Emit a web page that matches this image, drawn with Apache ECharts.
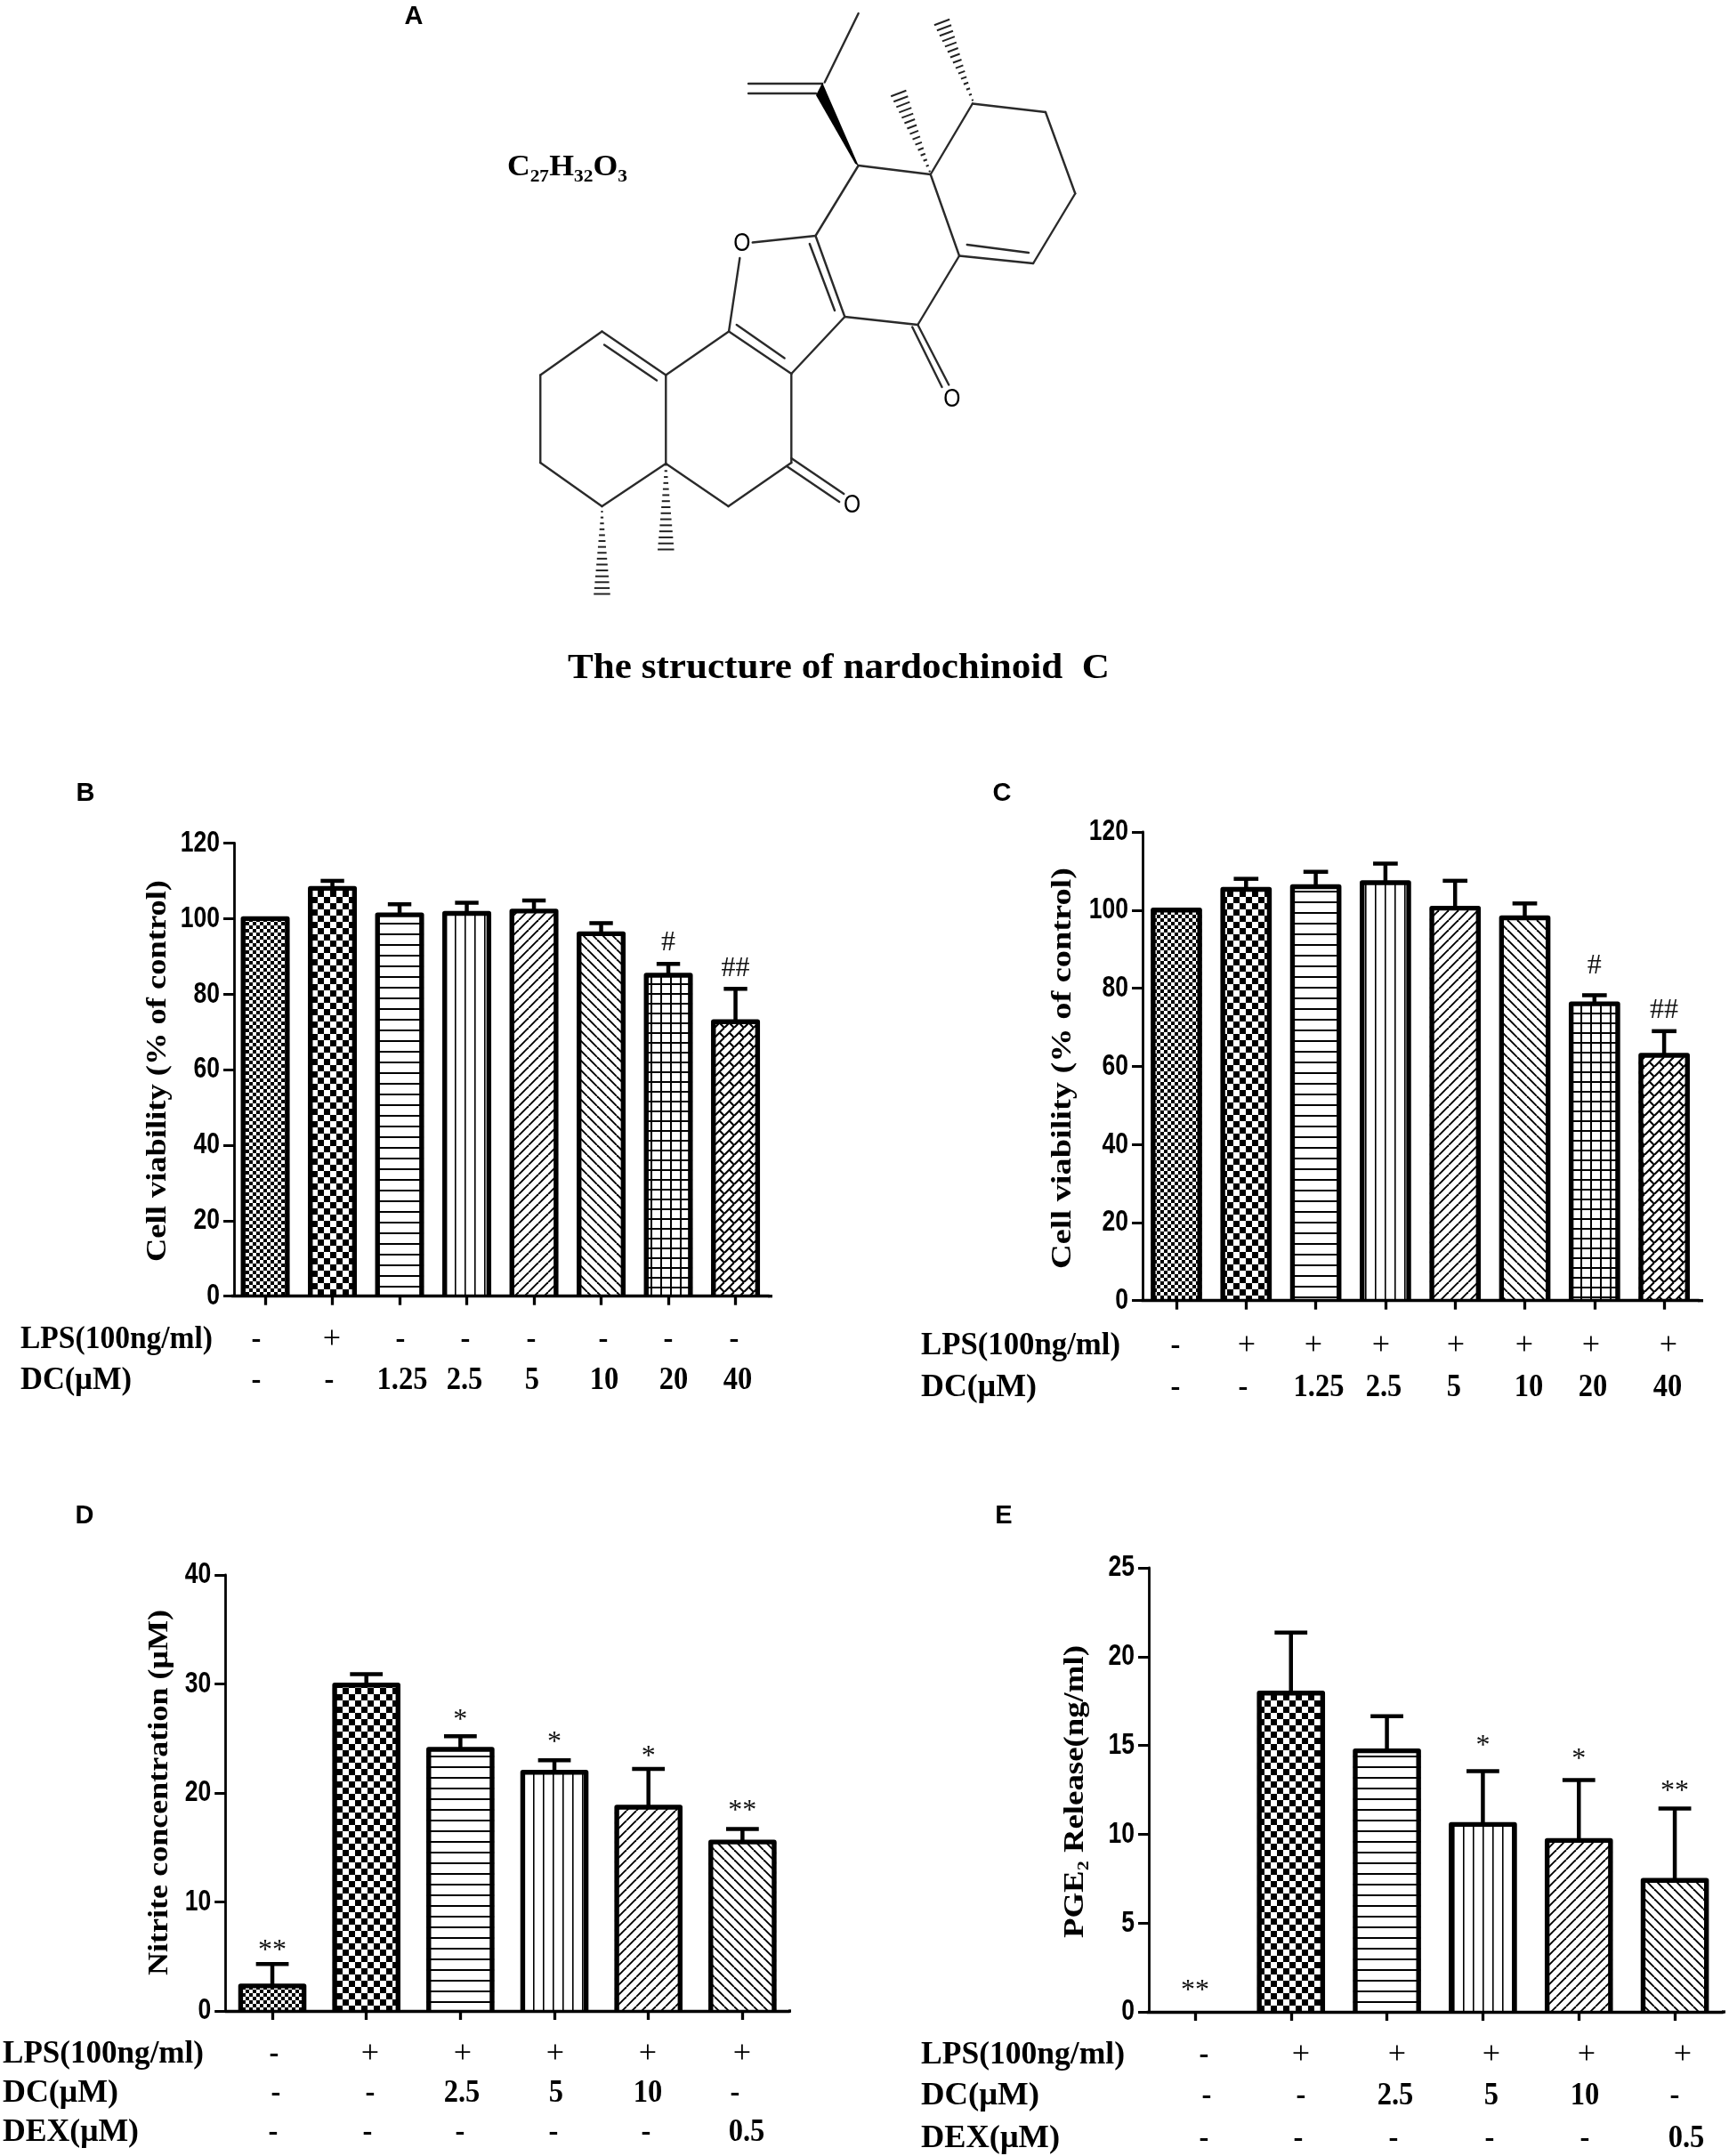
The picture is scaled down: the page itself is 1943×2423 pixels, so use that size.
<!DOCTYPE html>
<html><head><meta charset="utf-8">
<style>html,body{margin:0;padding:0;background:#fff}#c{width:1943px;height:2423px}</style>
<script src="https://cdn.jsdelivr.net/npm/echarts@6/dist/echarts.min.js"></script>
</head><body><div id="c"></div>
<script>
// ---------- data ----------
const bCategories = ['-/-','+/-','-/1.25','-/2.5','-/5','-/10','-/20','-/40'];
const bMean = [100,108,101,101.4,102,96,85,72.7];
const bErrTop = [null,110,103.8,104.2,104.8,98.8,88,81.4];
const bSig = ['','','','','','','#','##'];
const bLps = ['-','+','-','-','-','-','-','-'];
const bDc = ['-','-','1.25','2.5','5','10','20','40'];
const bTicks = [0,20,40,60,80,100,120];

const cCategories = ['-/-','+/-','+/1.25','+/2.5','+/5','+/10','+/20','+/40'];
const cMean = [100,105.3,106,107,100.5,98,76,62.8];
const cErrTop = [null,108,109.8,111.9,107.5,101.7,78.2,69];
const cSig = ['','','','','','','#','##'];
const cLps = ['-','+','+','+','+','+','+','+'];
const cDc = ['-','-','1.25','2.5','5','10','20','40'];
const cTicks = [0,20,40,60,80,100,120];

const dCategories = ['ctrl','LPS','DC 2.5','DC 5','DC 10','DEX 0.5'];
const dMean = [2.3,29.9,24,21.9,18.7,15.5];
const dErrTop = [4.3,30.9,25.2,23,22.2,16.7];
const dSig = ['**','','*','*','*','**'];
const dLps = ['-','+','+','+','+','+'];
const dDc = ['-','-','2.5','5','10','-'];
const dDex = ['-','-','-','-','-','0.5'];
const dTicks = [0,10,20,30,40];

const eCategories = ['ctrl','LPS','DC 2.5','DC 5','DC 10','DEX 0.5'];
const eMean = [0,17.95,14.7,10.55,9.65,7.4];
const eErrTop = [null,21.35,16.65,13.55,13.05,11.45];
const eSig = ['**','','','*','*','**'];
const eLps = ['-','+','+','+','+','+'];
const eDc = ['-','-','2.5','5','10','-'];
const eDex = ['-','-','-','-','-','0.5'];
const eTicks = [0,5,10,15,20,25];

// ---------- layout (pixels) ----------
const SERIF='"Liberation Serif","Times New Roman",serif';
const SANS='"Liberation Sans",Arial,sans-serif';

const panels=[
 {cat:bCategories,mean:bMean,top:bErrTop,sig:bSig,ticks:bTicks,sigGap:[0,0,0,0,0,0,24,23],
  left:260.3,width:604,y0:1456.7,y1:947.5,step:20,barOuter:55,yOffset:-2.7,axisEnd:868,
  name:'Cell viability (% of control)',nameX:178,nameY0:989,nameY1:1418},
 {cat:cCategories,mean:cMean,top:cErrTop,sig:cSig,ticks:cTicks,sigGap:[0,0,0,0,0,0,33,23],
  left:1282.85,width:626.4,y0:1461.7,y1:935,step:20,barOuter:57.7,yOffset:-1.2,axisEnd:1914,
  name:'Cell viability (% of control)',nameX:1195,nameY0:975,nameY1:1426},
 {cat:dCategories,mean:dMean,top:dErrTop,sig:dSig,ticks:dTicks,sigGap:[21,0,24,26,19,26],
  left:253.2,width:634,y0:2260,y1:1770,step:10,barOuter:76.6,yOffset:0,axisEnd:889,
  name:'Nitrite concentration (\u03BCM)',nameX:180,nameY0:1809,nameY1:2220},
 {cat:eCategories,mean:eMean,top:eErrTop,sig:eSig,ticks:eTicks,sigGap:[29,0,0,34,29,25],
  left:1289,width:647,y0:2261,y1:1762,step:5,barOuter:76.6,yOffset:-2,axisEnd:1939,
  name:'PGE\u2082 Release(ng/ml)',nameX:1209,nameY0:1849,nameY1:2178}
];

// table rows below each panel: label, target label width, values, horizontal positions, row centre
const rows=[
 {label:'LPS(100ng/ml)',lx:23,fit:216,y:1506,vals:bLps,xs:[288,373,450,523,597,678,751,825]},
 {label:'DC(\u03BCM)',lx:23,fit:125,y:1552,vals:bDc,xs:[288,370,452,522,598,679,757,829]},
 {label:'LPS(100ng/ml)',lx:1035,fit:224,y:1513,vals:cLps,xs:[1321,1401,1476,1552,1636,1713,1788,1875]},
 {label:'DC(\u03BCM)',lx:1035,fit:130,y:1560,vals:cDc,xs:[1321,1397,1482,1555,1634,1718,1790,1874]},
 {label:'LPS(100ng/ml)',lx:3,fit:226,y:2309,vals:dLps,xs:[308,416,520,624,728,834]},
 {label:'DC(\u03BCM)',lx:3,fit:130,y:2353,vals:dDc,xs:[310,416,519,625,728,826]},
 {label:'DEX(\u03BCM)',lx:3,fit:153,y:2397,vals:dDex,xs:[307,413,517,622,726,839]},
 {label:'LPS(100ng/ml)',lx:1035,fit:229,y:2310,vals:eLps,xs:[1353,1462,1570,1676,1783,1891]},
 {label:'DC(\u03BCM)',lx:1035,fit:133,y:2356,vals:eDc,xs:[1356,1462,1568,1676,1781,1882]},
 {label:'DEX(\u03BCM)',lx:1035,fit:156,y:2404,vals:eDex,xs:[1353,1459,1566,1674,1781,1895]}
];

// ---------- hatch patterns ----------
function tile(w,h,draw){
  const c=document.createElement('canvas');c.width=w;c.height=h;
  const g=c.getContext('2d');g.fillStyle='#fff';g.fillRect(0,0,w,h);
  g.strokeStyle='#000';g.fillStyle='#000';draw(g,w,h);return c;
}
function checker(n){return tile(n*2,n*2,(g)=>{g.fillRect(0,0,n,n);g.fillRect(n,n,n,n);});}
const patterns={
 fine:checker(4),
 coarse:checker(7),
 hor:tile(12,12,(g)=>{g.fillRect(0,5,12,2);}),
 ver:tile(11,11,(g)=>{g.fillRect(5,0,1.6,11);}),
 up:tile(11,11,(g)=>{g.lineWidth=1.9;for(const k of [-11,0,11]){g.beginPath();g.moveTo(k,11);g.lineTo(k+11,0);g.stroke();}}),
 down:tile(11,11,(g)=>{g.lineWidth=1.9;for(const k of [-11,0,11]){g.beginPath();g.moveTo(k,0);g.lineTo(k+11,11);g.stroke();}}),
 grid:tile(11,11,(g)=>{g.fillRect(5,0,2,11);g.fillRect(0,5,11,2);}),
 weave:tile(11,11,(g)=>{g.lineWidth=2.2;
   for(const k of [-11,0,11]){g.beginPath();g.moveTo(k,11);g.lineTo(k+11,0);g.stroke();}
   for(const [x,y] of [[0,0],[11,11],[11,0],[0,11]]){g.beginPath();g.moveTo(x-5.5,y-5.5);g.lineTo(x,y);g.stroke();}
 })
};
const seq8=['fine','coarse','hor','ver','up','down','grid','weave'];
const seq6=['fine','coarse','hor','ver','up','down'];

// ---------- option ----------
const grids=[],xAxes=[],yAxes=[],series=[],graphics=[];
panels.forEach((p,i)=>{
  const max=p.ticks[p.ticks.length-1];
  grids.push({left:p.left,width:p.width,top:p.y1,height:p.y0-p.y1,containLabel:false});
  xAxes.push({type:'category',gridIndex:i,data:p.cat,boundaryGap:true,z:6,
    axisLine:{show:true,onZero:true,lineStyle:{color:'#000',width:3.3}},
    axisTick:{show:true,alignWithLabel:true,length:10,lineStyle:{color:'#000',width:3.3}},
    axisLabel:{show:false},splitLine:{show:false}});
  yAxes.push({type:'value',gridIndex:i,min:0,max:max,interval:p.step,offset:p.yOffset,
    axisLine:{show:true,lineStyle:{color:'#000',width:2.8}},
    axisTick:{show:true,length:12,lineStyle:{color:'#000',width:3}},
    axisLabel:{show:false},splitLine:{show:false}});
  const seq=p.cat.length===8?seq8:seq6;
  const sw=5.4;
  // pattern-filled bars
  series.push({type:'bar',xAxisIndex:i,yAxisIndex:i,barWidth:p.barOuter-1,z:3,animation:false,
    data:p.mean.map((v,k)=>({value:v,itemStyle:{color:{image:patterns[seq[k]],repeat:'repeat'}}}))});
  // bar outlines: open at the bottom, where the bar rests on the axis
  series.push({type:'custom',xAxisIndex:i,yAxisIndex:i,z:4,animation:false,clip:false,
    encode:{x:0,y:1},
    data:p.mean.map((v,k)=>[k,v]),
    renderItem:(params,api)=>{
      const v=api.value(1);
      if(!v) return null;
      const t=api.coord([api.value(0),v]),b=api.coord([api.value(0),0]);
      const h=(p.barOuter-sw)/2;
      return {type:'polyline',shape:{points:[[t[0]-h,b[1]],[t[0]-h,t[1]],[t[0]+h,t[1]],[t[0]+h,b[1]]]},
        style:{stroke:'#000',lineWidth:sw,fill:null,lineJoin:'round'}};
    }});
  // error bars
  const capHalf=p.barOuter*0.24;
  series.push({type:'custom',xAxisIndex:i,yAxisIndex:i,z:4,animation:false,
    encode:{x:0,y:[1,2]},
    data:p.mean.map((v,k)=>[k,v,p.top[k]==null?v:p.top[k]]),
    renderItem:(params,api)=>{
      const k=api.value(0);
      if(p.top[k]==null) return null;
      const a=api.coord([k,api.value(1)]),b=api.coord([k,api.value(2)]);
      const st={stroke:'#000',lineWidth:4.5,fill:null};
      return {type:'group',children:[
        {type:'line',shape:{x1:a[0],y1:a[1],x2:b[0],y2:b[1]},style:st},
        {type:'line',shape:{x1:b[0]-capHalf,y1:b[1],x2:b[0]+capHalf,y2:b[1]},style:st}
      ]};
    }});
  // significance marks
  series.push({type:'custom',xAxisIndex:i,yAxisIndex:i,z:5,animation:false,
    encode:{x:0,y:1},
    data:p.mean.map((v,k)=>[k,p.top[k]==null?v:p.top[k]]),
    renderItem:(params,api)=>{
      const k=api.value(0),s=p.sig[k];
      if(!s) return null;
      const b=api.coord([k,api.value(1)]);
      const star=s[0]==='*';
      return {type:'text',x:b[0],y:b[1]-p.sigGap[k]+(star?6:0),
        style:{text:s,font:'normal 32px '+SERIF,fill:'#111',align:'center',verticalAlign:'middle'}};
    }});
  // tick labels in the condensed look of the original, placed through the value scale
  series.push({type:'custom',xAxisIndex:i,yAxisIndex:i,z:5,animation:false,clip:false,
    encode:{x:0,y:1},
    data:p.ticks.map(t=>[0,t]),
    renderItem:(params,api)=>{
      const v=api.value(1);
      const c=api.coord([0,v]);
      return {type:'text',x:p.left-p.yOffset-16,y:c[1],scaleX:0.78,
        style:{text:String(v),font:'bold 34px '+SANS,fill:'#000',align:'right',verticalAlign:'middle'}};
    }});
  // short overshoot of the baseline past the last category
  graphics.push({type:'line',silent:true,z:6,
    shape:{x1:p.left+p.width-1,y1:p.y0,x2:p.axisEnd,y2:p.y0},style:{stroke:'#000',lineWidth:3.3}});
});

// ---------- text ----------
const mctx=document.createElement('canvas').getContext('2d');
function T(str,x,y,o){
  o=o||{};
  const font=(o.weight||'bold')+' '+(o.size||33)+'px '+(o.family||SERIF);
  let sx=o.sx||1;
  if(o.fit){mctx.font=font;sx=o.fit/mctx.measureText(str).width;}
  graphics.push({type:'text',silent:true,x:x,y:y,rotation:o.rot||0,scaleX:sx,z:10,
    style:{text:str,font:font,fill:'#000',align:o.align||'left',verticalAlign:'middle'}});
}
panels.forEach(p=>{
  T(p.name,p.nameX,(p.nameY0+p.nameY1)/2,{size:32,align:'center',rot:Math.PI/2,fit:p.nameY1-p.nameY0});
});
rows.forEach(r=>{
  T(r.label,r.lx,r.y,{size:35,fit:r.fit});
  r.vals.forEach((v,k)=>{
    if(v==='+') T(v,r.xs[k],r.y,{size:36,align:'center',weight:'normal'});
    else T(v,r.xs[k],r.y,{size:35,sx:0.93,align:'center'});
  });
});
[['A',465,19],['B',96,892],['C',1126,892],['D',95,1704],['E',1128,1704]].forEach(a=>
  T(a[0],a[1],a[2],{size:29,family:SANS,align:'center'}));
T('C\u2082\u2087H\u2083\u2082O\u2083',570,188,{size:33,fit:135});
T('The structure of nardochinoid  C',638,752,{size:40,fit:609});

// ---------- structure of the compound (drawing, not data) ----------
const mx=v=>497+v/1.95, my=v=>v/2;
const INK='#2a2a2a';
const bonds=[
 [912,30,838,185],[671,188,833,188],[671,210,819,210],
 [912,372,1070,392],[1070,392,1162,233],[1162,233,1322,252],[1322,252,1387,435],[1387,435,1295,592],
 [1295,592,1133,575],[1150,550,1285,568],[1133,575,1070,392],[1133,575,1042,730],[1042,730,882,712],
 [882,712,818,530],[805,548,860,698],[818,530,912,372],[818,530,680,545],[652,580,628,745],
 [628,745,765,840],[645,730,750,805],[765,840,882,712],[628,745,490,843],[490,843,350,745],
 [470,855,355,775],[350,745,215,843],[215,843,215,1040],[215,1040,350,1138],[350,1138,490,1042],
 [490,1042,490,843],[490,1042,627,1138],[627,1138,765,1040],[765,1040,765,840],
 [765,1030,880,1110],[755,1048,870,1128],[1042,730,1110,865],[1030,735,1095,870]
];
bonds.forEach(b=>graphics.push({type:'line',silent:true,z:8,
  shape:{x1:mx(b[0]),y1:my(b[1]),x2:mx(b[2]),y2:my(b[3])},style:{stroke:INK,lineWidth:2.4,lineCap:'round'}}));
graphics.push({type:'polygon',silent:true,z:8,
  shape:{points:[[mx(833),my(186)],[mx(819),my(214)],[mx(905),my(368)],[mx(912),my(372)]]},style:{fill:'#000'}});
[[1162,225,1095,50],[1068,385,1000,210],[350,1150,350,1335],[490,1045,490,1235]].forEach(h=>{
  const n=15, dx=h[2]-h[0], dy=h[3]-h[1], L=Math.hypot(dx,dy), ux=-dy/L, uy=dx/L;
  for(let k=0;k<n;k++){
    const t=k/(n-1), cx=h[0]+dx*t, cy=h[1]+dy*t, w=2+16*t;
    graphics.push({type:'line',silent:true,z:8,
      shape:{x1:mx(cx-ux*w),y1:my(cy-uy*w),x2:mx(cx+ux*w),y2:my(cy+uy*w)},style:{stroke:'#222',lineWidth:2}});
  }
});
[[657,547],[1117,898],[898,1135]].forEach(o=>T('O',mx(o[0]),my(o[1]),{size:29,sx:0.85,family:SANS,weight:'normal',align:'center'}));

const chart=echarts.init(document.getElementById('c'),null,{renderer:'canvas',width:1943,height:2423});
chart.setOption({backgroundColor:'#fff',animation:false,grid:grids,xAxis:xAxes,yAxis:yAxes,series:series,graphic:{elements:graphics}});
</script></body></html>
